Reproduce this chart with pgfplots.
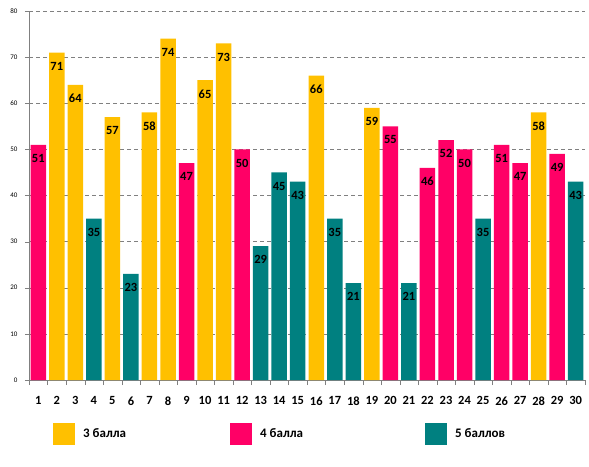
\documentclass[border=0pt]{standalone}
\usepackage{pgfplots}
\pgfplotsset{compat=1.18}
\usepackage{fontspec}
\setmainfont{Carlito}
\definecolor{yel}{HTML}{FFC000}
\definecolor{pnk}{HTML}{FF0066}
\definecolor{tea}{HTML}{008080}
\begin{document}
\begin{tikzpicture}
\useasboundingbox (-29pt,-86pt) rectangle (560pt,380pt);
\begin{axis}[
    scale only axis,
    width=556pt, height=369pt,
    xmin=0.5, xmax=30.5,
    ymin=0, ymax=80,
    ytick={0,10,...,80},
    xtick={1,...,30},
    minor xtick={0.5,1.5,...,30.5},
    axis x line*=bottom, axis y line*=left,
    axis line style={draw=gray, -},
    tick align=outside,
    major tick length=4pt, minor tick length=5pt,
    xtick style={draw=none},
    minor x tick style={draw=gray},
    ytick style={draw=gray},
    ymajorgrids,
    major grid style={draw=gray, dash pattern=on 4pt off 3pt},
    /pgf/number format/assume math mode=true,
    yticklabel style={font=\fontsize{7}{8}\selectfont, xshift=-4pt},
    xticklabel style={font=\fontsize{12.5}{14}\selectfont\bfseries, yshift=-9pt},
    every axis plot/.append style={ybar, bar width=15.5pt, bar shift=0pt, draw=none},
    nodes near coords,
    nodes near coords style={anchor=north, yshift=-6pt, font=\fontsize{12.5}{14}\selectfont\bfseries, text=black},
    legend columns=3,
    legend style={draw=none, fill=none, inner sep=0pt, column sep=0pt,
        at={(24pt,-54pt)}, anchor=west,
        nodes={inner sep=0pt, font=\fontsize{13}{15}\selectfont\bfseries}},
    legend image code/.code={\fill[#1] (0pt,-11pt) rectangle (22pt,11pt); \path (30pt,0pt);},
]
\addplot[fill=yel] coordinates {(2,71) (3,64) (5,57) (7,58) (8,74) (10,65) (11,73) (16,66) (19,59) (28,58)};
\addplot[fill=pnk] coordinates {(1,51) (9,47) (12,50) (20,55) (22,46) (23,52) (24,50) (26,51) (27,47) (29,49)};
\addplot[fill=tea] coordinates {(4,35) (6,23) (13,29) (14,45) (15,43) (17,35) (18,21) (21,21) (25,35) (30,43)};
\legend{\makebox[147pt][l]{3 балла},\makebox[165pt][l]{4 балла},5 баллов}
\end{axis}
\end{tikzpicture}
\end{document}
